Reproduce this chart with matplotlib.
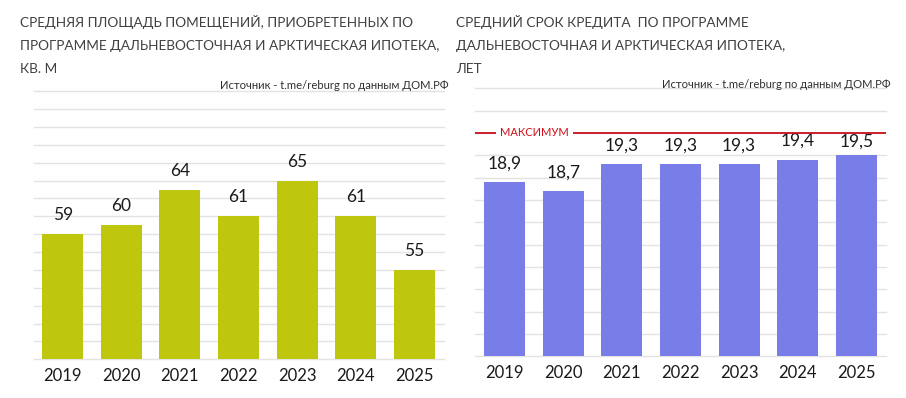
import numpy as np
import matplotlib
matplotlib.use("Agg")
import matplotlib.pyplot as plt

plt.rcParams['font.family'] = ['Lato', 'DejaVu Sans']

# data
years = ['2019', '2020', '2021', '2022', '2023', '2024', '2025']
area_sqm = [59, 60, 64, 61, 65, 61, 55]
term_years = [18.9, 18.7, 19.3, 19.3, 19.3, 19.4, 19.5]
term_max = 20.0

title_left = ['СРЕДНЯЯ ПЛОЩАДЬ ПОМЕЩЕНИЙ, ПРИОБРЕТЕННЫХ ПО',
              'ПРОГРАММЕ ДАЛЬНЕВОСТОЧНАЯ И АРКТИЧЕСКАЯ ИПОТЕКА,',
              'КВ. М']
title_right = ['СРЕДНИЙ СРОК КРЕДИТА  ПО ПРОГРАММЕ',
               'ДАЛЬНЕВОСТОЧНАЯ И АРКТИЧЕСКАЯ ИПОТЕКА,',
               'ЛЕТ']
source = 'Источник - t.me/reburg по данным ДОМ.РФ'

W, H = 906, 398
fig = plt.figure(figsize=(W / 100, H / 100), dpi=100)


def px(x, y):
    return x / W, 1 - y / H


def panel(rect, values, color, ylo, yhi, step, fmt, cap=None):
    ax = fig.add_axes(rect)
    x = np.arange(len(values))
    ax.bar(x, values, width=0.7, color=color, zorder=3)
    ax.set_xlim(-0.5, len(values) - 0.5)
    ax.set_ylim(ylo, yhi)
    ax.set_yticks(np.arange(ylo, yhi + step / 2, step))
    ax.grid(axis='y', color='#E3E3E3', lw=1.0, zorder=0)
    for gl in ax.get_ygridlines():
        gl.set_clip_on(False)
    ax.tick_params(axis='y', length=0, labelleft=False)
    ax.set_xticks(x)
    ax.set_xticklabels(years, fontsize=12, color='#1a1a1a')
    ax.tick_params(axis='x', length=0, pad=6)
    for s in ax.spines.values():
        s.set_visible(False)
    for xi, v in zip(x, values):
        off = 10
        # keep labels under the max line
        if cap is not None and cap - v < 0.6:
            off = 6
        ax.annotate(fmt(v), (xi, v), xytext=(0, off), textcoords='offset points',
                    ha='center', va='baseline', fontsize=12.5, color='#1a1a1a')
    return ax


l0, b0 = px(33.5, 359.3)
axl = panel([l0, b0, 410 / W, 268 / H], area_sqm, '#BEC60E',
            45, 75, 2, lambda v: f'{v}')

l1, b1 = px(475.3, 356.3)
axr = panel([l1, b1, 410.4 / W, 268 / H], term_years, '#787DE8',
            15.0, 21.0, 0.5, lambda v: f'{v:.1f}'.replace('.', ','), cap=term_max)

# maximum line
axr.axhline(term_max, color='#C8101E', lw=1.3, zorder=4)
axr.annotate('МАКСИМУМ', (-0.5, term_max), xytext=(24.7, 0), textcoords='offset pixels',
             ha='left', va='center', fontsize=8, color='#D0101A', zorder=5,
             bbox=dict(facecolor='white', edgecolor='none', pad=3))

# titles
for tx, lines in [(20, title_left), (456, title_right)]:
    for ty, t in zip([27.3, 50.0, 72.7], lines):
        fig.text(*px(tx, ty), t, ha='left', va='baseline', fontsize=9.8,
                 color='#404040')

fig.text(*px(449, 89), source, ha='right', va='baseline', fontsize=8.1, color='#303030')
fig.text(*px(890.5, 88), source, ha='right', va='baseline', fontsize=8.1, color='#303030')

fig.savefig('out.png', dpi=100)
